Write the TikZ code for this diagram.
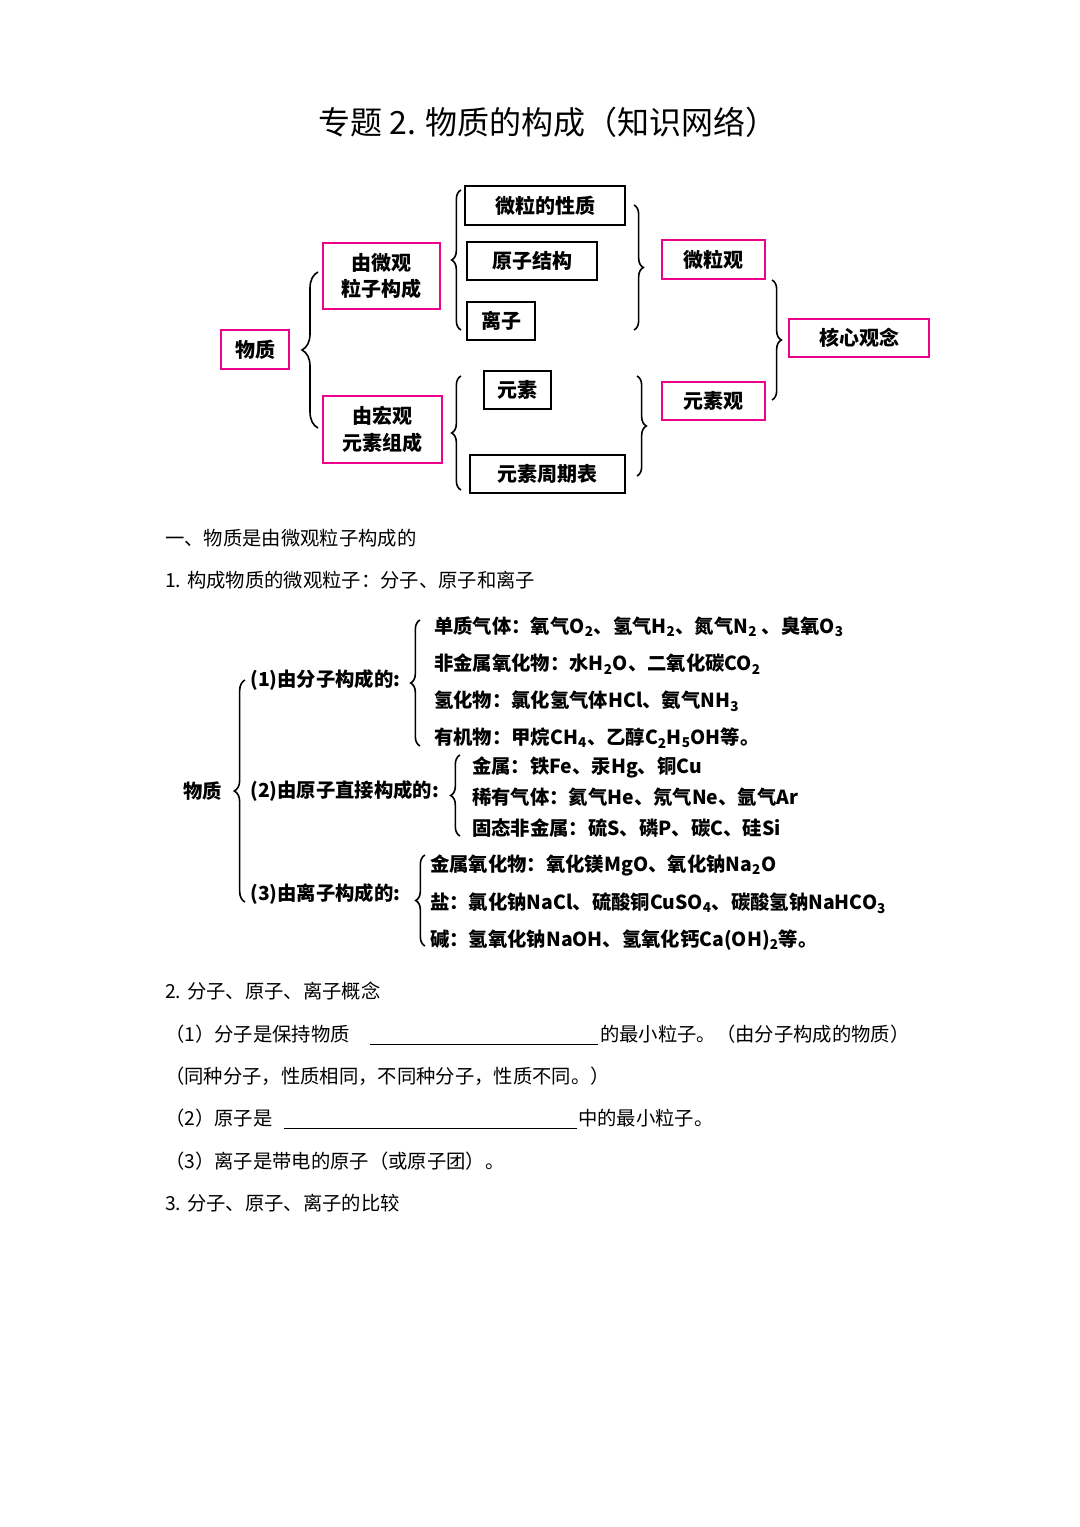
\documentclass[tikz,border=0pt]{standalone}
\usepackage{fontspec}
\setmainfont{Noto Sans CJK SC}
\usetikzlibrary{decorations.pathreplacing}
\begin{document}
\begin{tikzpicture}[x=0.75pt,y=-0.75pt,
  mbox/.style={draw=magenta,line width=1.9pt,inner sep=0,align=center,font=\fontsize{15}{20}\selectfont\bfseries},
  kbox/.style={draw=black,line width=1.9pt,inner sep=0,font=\fontsize{15}{19}\selectfont\bfseries},
  br/.style={decorate,decoration={brace,amplitude=7pt},line width=1.2pt},
  t/.style={anchor=west,inner sep=0,font=\fontsize{14.5}{18}\selectfont},
  d/.style={anchor=west,inner sep=0,font=\fontsize{14.5}{16}\selectfont\bfseries}]
\useasboundingbox (0,0) rectangle (1080,1527);
\fill[white] (0,0) rectangle (1080,1527);
\node[inner sep=0,font=\fontsize{24}{28}\selectfont] (title) at (548,122) {专题 2. 物质的构成（知识网络）};
% diagram 1
\node[mbox,minimum width=51pt,minimum height=29pt] (wz) at (255,349.5) {物质};
\node[mbox,minimum width=88pt,minimum height=49.5pt] (wg) at (381.5,276) {由微观\\粒子构成};
\node[mbox,minimum width=89pt,minimum height=50pt] (hg) at (382.5,429.5) {由宏观\\元素组成};
\node[kbox,minimum width=120pt,minimum height=29pt] (xz) at (545,205.5) {微粒的性质};
\node[kbox,minimum width=97.5pt,minimum height=28.5pt] (yz) at (532,261) {原子结构};
\node[kbox,minimum width=51pt,minimum height=28.5pt] (lz) at (501,321) {离子};
\node[kbox,minimum width=50pt,minimum height=28.5pt] (ys) at (517.5,390) {元素};
\node[kbox,minimum width=116pt,minimum height=28.5pt] (zq) at (547.5,474) {元素周期表};
\node[mbox,minimum width=77pt,minimum height=29pt] (wlg) at (713.5,259.5) {微粒观};
\node[mbox,minimum width=77pt,minimum height=28.5pt] (ysg) at (713.5,401) {元素观};
\node[mbox,minimum width=105pt,minimum height=28.5pt] (hx) at (859,338) {核心观念};
\coordinate (b1a) at (318,272); \coordinate (b1b) at (318,428);
\draw[br,decoration={amplitude=12pt}] (b1b) -- (b1a);
\coordinate (b2a) at (461,190); \coordinate (b2b) at (461,330);
\draw[br] (b2b) -- (b2a);
\coordinate (b3a) at (461,376); \coordinate (b3b) at (461,490);
\draw[br] (b3b) -- (b3a);
\coordinate (b4a) at (634,205); \coordinate (b4b) at (634,330);
\draw[br] (b4a) -- (b4b);
\coordinate (b5a) at (637,376); \coordinate (b5b) at (637,476);
\draw[br] (b5a) -- (b5b);
\coordinate (b6a) at (772,280); \coordinate (b6b) at (772,400);
\draw[br] (b6a) -- (b6b);
% section 1
\node[t] (s1) at (165,538) {一、物质是由微观粒子构成的};
\node[t] (s2) at (165,580) {1. 构成物质的微观粒子：分子、原子和离子};
% diagram 2
\node[d] (m) at (183,791) {物质};
\coordinate (c1a) at (245,680); \coordinate (c1b) at (245,902);
\draw[br,decoration={amplitude=8pt}] (c1b) -- (c1a);
\node[d] (p1) at (250,680) {(1)由分子构成的:};
\node[d] (p2) at (250,791) {(2)由原子直接构成的:};
\node[d] (p3) at (250,894) {(3)由离子构成的:};
\coordinate (c2a) at (420,620); \coordinate (c2b) at (420,746);
\draw[br] (c2b) -- (c2a);
\coordinate (c3a) at (460,755); \coordinate (c3b) at (460,836);
\draw[br] (c3b) -- (c3a);
\coordinate (c4a) at (425,855); \coordinate (c4b) at (425,946);
\draw[br] (c4b) -- (c4a);
\node[d] (a1) at (434,627) {单质气体：氧气O\textsubscript{2}、氢气H\textsubscript{2}、氮气N\textsubscript{2} 、臭氧O\textsubscript{3}};
\node[d] (a2) at (434,664) {非金属氧化物：水H\textsubscript{2}O、二氧化碳CO\textsubscript{2}};
\node[d] (a3) at (434,701) {氢化物：氯化氢气体HCl、氨气NH\textsubscript{3}};
\node[d] (a4) at (434,738) {有机物：甲烷CH\textsubscript{4}、乙醇C\textsubscript{2}H\textsubscript{5}OH等。};
\node[d] (b1) at (472,767) {金属：铁Fe、汞Hg、铜Cu};
\node[d] (b2) at (472,797) {稀有气体：氦气He、氖气Ne、氩气Ar};
\node[d] (b3) at (472,828) {固态非金属：硫S、磷P、碳C、硅Si};
\node[d] (e1) at (430,865) {金属氧化物：氧化镁MgO、氧化钠Na\textsubscript{2}O};
\node[d] (e2) at (430,903) {盐：氯化钠NaCl、硫酸铜CuSO\textsubscript{4}、碳酸氢钠NaHCO\textsubscript{3}};
\node[d] (e3) at (430,940) {碱：氢氧化钠NaOH、氢氧化钙Ca(OH)\textsubscript{2}等。};
% section 2
\node[t] (q0) at (165,991) {2. 分子、原子、离子概念};
\node[t] (q1) at (165,1034) {（1）分子是保持物质};
\coordinate (u1a) at (370,1044); \coordinate (u1b) at (598,1044);
\draw[line width=0.6pt] (u1a) -- (u1b);
\node[t] (q1b) at (600,1034) {的最小粒子。（由分子构成的物质）};
\node[t] (q2) at (165,1076) {（同种分子，性质相同，不同种分子，性质不同。）};
\node[t] (q3) at (165,1118) {（2）原子是};
\coordinate (u2a) at (284,1128); \coordinate (u2b) at (577,1128);
\draw[line width=0.6pt] (u2a) -- (u2b);
\node[t] (q3b) at (578,1118) {中的最小粒子。};
\node[t] (q4) at (165,1161) {（3）离子是带电的原子（或原子团）。};
\node[t] (q5) at (165,1203) {3. 分子、原子、离子的比较};
\end{tikzpicture}
\end{document}
